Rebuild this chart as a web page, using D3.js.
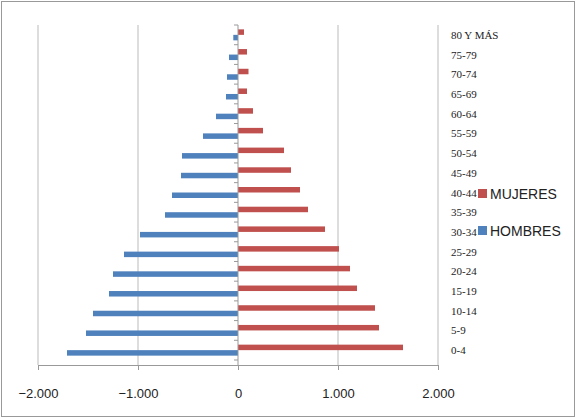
<!DOCTYPE html>
<html><head><meta charset="utf-8">
<script src="https://cdn.jsdelivr.net/npm/d3@7"></script>
<style>body{margin:0;background:#fff}svg{font-family:"Liberation Sans Narrow","Liberation Sans",sans-serif}</style>
</head><body><div id="chart"></div>
<script>
const grupos = ['0-4','5-9','10-14','15-19','20-24','25-29','30-34','35-39','40-44','45-49','50-54','55-59','60-64','65-69','70-74','75-79','80 Y MÁS'];
const mujeres = [1650,1410,1370,1190,1120,1010,870,700,620,530,460,250,150,90,105,90,60];
const hombres = [-1710,-1520,-1450,-1290,-1250,-1140,-980,-730,-660,-570,-560,-350,-220,-120,-110,-90,-47];
const ticks = [-2000,-1000,0,1000,2000];

const width = 576, height = 418;
const margin = { top: 25, right: 138, bottom: 53, left: 38 };
const svg = d3.select('#chart').append('svg').attr('width', width).attr('height', height);

svg.append('rect').attr('x', 1.5).attr('y', 1.5).attr('width', width - 3).attr('height', height - 3)
  .attr('fill', 'none').attr('stroke', '#999');

const x = d3.scaleLinear().domain([-2000, 2000]).range([margin.left, width - margin.right]);
const y = d3.scaleBand().domain(grupos.slice().reverse()).range([margin.top, height - margin.bottom - 5]);

// grid
svg.append('g').selectAll('line').data(ticks.filter(d => d !== 0)).join('line')
  .attr('x1', d => x(d)).attr('x2', d => x(d))
  .attr('y1', margin.top).attr('y2', height - margin.bottom)
  .attr('stroke', '#bbb');

const fmt = d => d === 0 ? '0' : d3.format(',')(d).replace(',', '.');
const xa = svg.append('g').attr('transform', `translate(0,${height - margin.bottom})`)
  .call(d3.axisBottom(x).tickValues(ticks).tickFormat(fmt).tickSize(5));
xa.select('.domain').attr('stroke', '#999');
xa.selectAll('line').attr('stroke', '#999');
xa.selectAll('text').attr('font-size', 13).attr('fill', '#222').attr('dy', '1.9em');

const bh = 5.5;
const rows = grupos.map((g, i) => ({ g, m: mujeres[i], h: hombres[i] }));
svg.append('g').selectAll('rect').data(rows).join('rect')
  .attr('x', x(0)).attr('y', d => y(d.g) + y.bandwidth() / 2 - bh)
  .attr('width', d => x(d.m) - x(0)).attr('height', bh).attr('fill', '#c0504d');
svg.append('g').selectAll('rect').data(rows).join('rect')
  .attr('x', d => x(d.h)).attr('y', d => y(d.g) + y.bandwidth() / 2)
  .attr('width', d => x(0) - x(d.h)).attr('height', bh).attr('fill', '#4f81bd');

// center axis
svg.append('line').attr('x1', x(0)).attr('x2', x(0))
  .attr('y1', margin.top).attr('y2', height - margin.bottom).attr('stroke', '#999');
svg.append('g').selectAll('line').data(d3.range(grupos.length + 1)).join('line')
  .attr('x1', x(0) - 4).attr('x2', x(0))
  .attr('y1', i => margin.top + i * y.step()).attr('y2', i => margin.top + i * y.step())
  .attr('stroke', '#999');

// category labels
svg.append('g').selectAll('text').data(grupos).join('text')
  .attr('x', x(2000) + 13).attr('y', d => y(d) + y.bandwidth() / 2 + 4)
  .attr('font-size', 11).attr('fill', '#222')
  .attr('font-family', '"Liberation Serif",serif').text(d => d);

// legend
const leg = [{ t: 'MUJERES', c: '#c0504d', y: 194 }, { t: 'HOMBRES', c: '#4f81bd', y: 231 }];
const lg = svg.append('g').selectAll('g').data(leg).join('g');
lg.append('rect').attr('x', 478).attr('y', d => d.y - 5).attr('width', 9).attr('height', 9).attr('fill', d => d.c);
lg.append('text').attr('x', 490).attr('y', d => d.y + 5).attr('font-size', 14).attr('fill', '#222').text(d => d.t);
</script></body></html>
